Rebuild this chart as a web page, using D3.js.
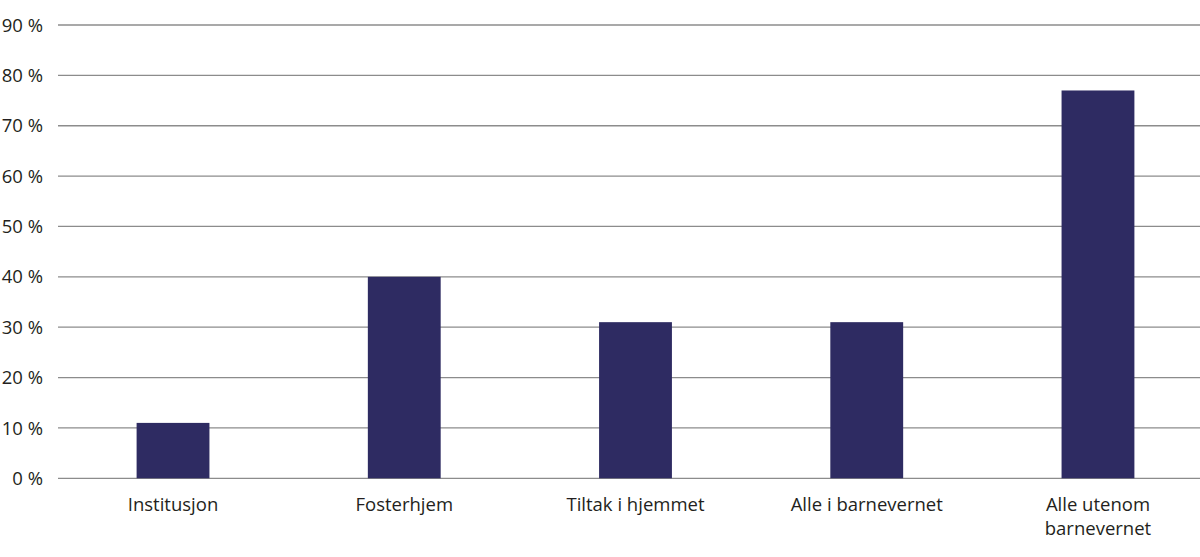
<!DOCTYPE html>
<html><head><meta charset="utf-8">
<script src="https://cdn.jsdelivr.net/npm/d3@7"></script>
<style>body{margin:0;background:#fff}svg{display:block}text{font-family:"Open Sans",sans-serif;fill:#231f20}</style>
</head><body><svg id="c" width="1200" height="557"></svg>
<script>
const categories = ["Institusjon","Fosterhjem","Tiltak i hjemmet","Alle i barnevernet","Alle utenom barnevernet"];
const labelLines = [["Institusjon"],["Fosterhjem"],["Tiltak i hjemmet"],["Alle i barnevernet"],["Alle utenom","barnevernet"]];
const values = [11,40,31,31,77];
const yTicks = [0,10,20,30,40,50,60,70,80,90];

const svg = d3.select("#c");
const x = d3.scaleBand().domain(categories).range([57.4,1213.6]).paddingInner(0.685).paddingOuter(0.3425);
const y = d3.scaleLinear().domain([0,90]).range([478.3,25]);

svg.append("g").selectAll("line").data(yTicks).join("line")
  .attr("x1",58).attr("x2",1200).attr("y1",d=>y(d)).attr("y2",d=>y(d))
  .attr("stroke","#8c8c8c").attr("stroke-width",1.3);
svg.append("g").selectAll("text").data(yTicks).join("text")
  .attr("x",43).attr("y",d=>y(d)).attr("dy","0.36em").attr("text-anchor","end")
  .attr("font-size",18.5).text(d=>d+" %");
svg.append("g").selectAll("rect").data(values).join("rect")
  .attr("x",(d,i)=>x(categories[i])).attr("width",x.bandwidth())
  .attr("y",d=>y(d)).attr("height",d=>y(0)-y(d)).attr("fill","#2e2b62");
const lab = svg.append("g").selectAll("text").data(categories).join("text")
  .attr("x",d=>x(d)+x.bandwidth()/2).attr("y",511).attr("text-anchor","middle").attr("font-size",18.5);
lab.selectAll("tspan").data((d,i)=>labelLines[i]).join("tspan")
  .attr("x",function(){return this.parentNode.getAttribute("x");})
  .attr("dy",(d,j)=>j?24:0).text(d=>d);
</script></body></html>
